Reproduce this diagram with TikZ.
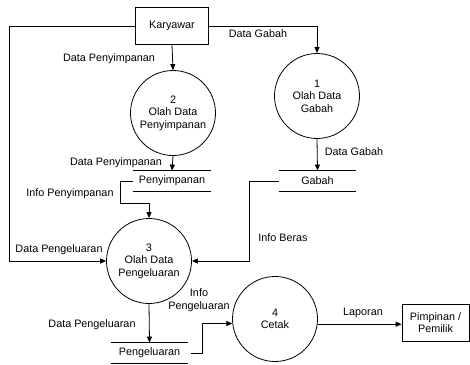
\documentclass[tikz,border=0pt]{standalone}
\usepackage{fontspec}
\setmainfont{Liberation Sans}
\usetikzlibrary{arrows.meta,positioning}
\tikzset{>/.tip={Triangle[length=6pt,width=5pt]}}
\tikzset{proc/.style={circle,draw,minimum size=85pt,inner sep=0pt,align=center}}
\tikzset{ext/.style={rectangle,draw,minimum height=37pt,inner sep=0pt,align=center}}
\tikzset{dstore/.style={minimum width=77pt,minimum height=20pt,inner sep=0pt,
    append after command={(\tikzlastnode.north west) edge (\tikzlastnode.north east)
      (\tikzlastnode.south west) edge (\tikzlastnode.south east)}}}
\tikzset{lbl/.style={inner sep=0pt,align=center}}

\begin{document}
\begin{tikzpicture}[x=1pt,y=-1pt,line width=0.8pt,font=\fontsize{10.8}{12.5}\selectfont]
        \useasboundingbox (0,0) rectangle (470,364);
        % entities
        \node(kary)[ext,minimum width=73pt] at (172,26){Karyawar};
        \node(pimp)[ext,minimum width=67pt] at (435.5,322.5){Pimpinan /\\Pemilik};
        % processes
        \node(p1)[proc] at (317,96){1\\Olah Data\\Gabah};
        \node(p2)[proc] at (173,113){2\\Olah Data\\Penyimpanan};
        \node(p3)[proc] at (149,261){3\\Olah Data\\Pengeluaran};
        \node(p4)[proc] at (275,319){4\\Cetak};
        % stores
        \node(sSimpan)[dstore,minimum width=78pt] at (172,181){Penyimpanan};
        \node(sGabah)[dstore] at (317.5,181){Gabah};
        \node(sKeluar)[dstore] at (149.5,353){Pengeluaran};
        % labels
        \node(l1)[lbl] at (258,34){Data Gabah};
        \node(l2)[lbl] at (109,59){Data Penyimpanan};
        \node(l3)[lbl] at (116,163){Data Penyimpanan};
        \node(l4)[lbl] at (354,152){Data Gabah};
        \node(l5)[lbl] at (70,194){Info Penyimpanan};
        \node(l6)[lbl] at (59,250){Data Pengeluaran};
        \node(l7)[lbl] at (283,238){Info Beras};
        \node(l8)[lbl] at (92,325){Data Pengeluaran};
        \node(l9)[lbl] at (199,300){Info\\Pengeluaran};
        \node(l10)[lbl] at (363,313){Laporan};
        % flows
        \draw[->]
        (kary.west) -| (9,261) -- (p3.west);
        \draw[->]
        (kary.east) -| (p1.north);
        \draw[->] (kary.south) -- (p2.north);
        \draw[->] (p2.south) -- (sSimpan.north);
        \draw[->] (p1.south) -- (sGabah.north);
        \draw[->]
        (sSimpan.west) -- (120,181) -- (120,203) -| (p3.north);
        \draw[->]
        (sGabah.west) -- (249,181) |- (p3.east);
        \draw[->] (p3.south) -- (sKeluar.north);
        \draw[->,shorten <=3pt]
        (sKeluar.east) -- ++(14,0) |- (p4.186);
        \draw[->] (p4.353) -- (pimp.west |- p4.353);
      \end{tikzpicture}
\end{document}
